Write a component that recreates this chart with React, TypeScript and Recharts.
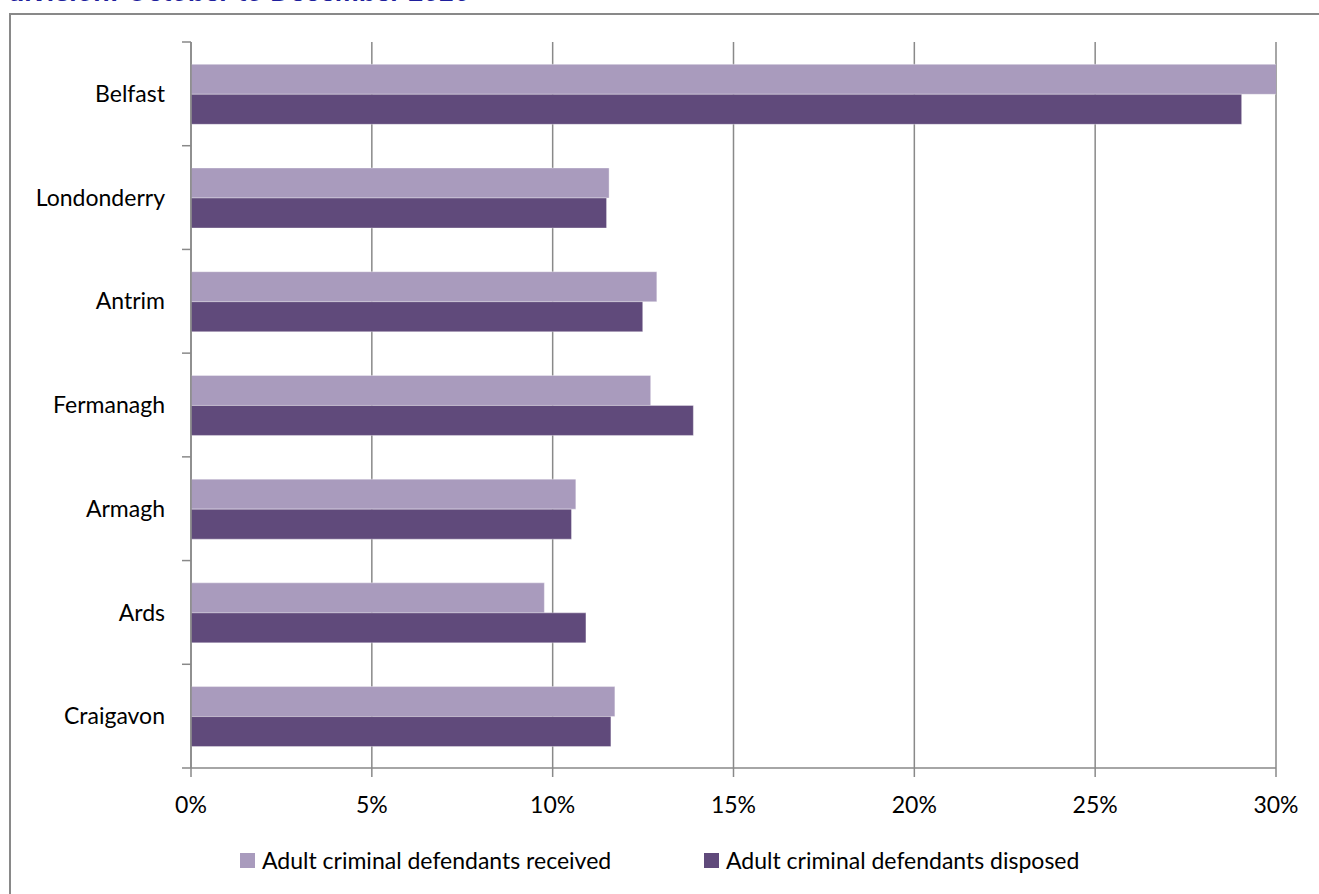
import React from 'react'
import { BarChart, Bar, XAxis, YAxis, CartesianGrid } from 'recharts'

const divisions = ['Belfast', 'Londonderry', 'Antrim', 'Fermanagh', 'Armagh', 'Ards', 'Craigavon']
const received = [0.301, 0.1156, 0.1288, 0.1271, 0.1064, 0.0977, 0.1172]
const disposed = [0.2905, 0.1149, 0.1249, 0.1389, 0.1052, 0.1092, 0.1161]
const xTicks = [0, 0.05, 0.1, 0.15, 0.2, 0.25, 0.3]

const data = divisions.map((division, i) => ({ division, received: received[i], disposed: disposed[i] }))

const GREY = '#898989'
const LIGHT = '#A99BBD'
const DARK = '#604A7B'
const FONT = 'Lato, "Open Sans", sans-serif'
const TICK_SIZE = 9
const TICK_MARGIN = 17

const pct = (v: number) => `${Math.round(v * 100)}%`

// category label plus the Excel-style tick marks on the band edges
const DivisionTick = (props: any) => {
  const { x, y, payload, index } = props
  const half = payload.offset || 0
  const axisX = x + TICK_MARGIN + TICK_SIZE
  return (
    <g>
      <text x={x} y={y} dy="0.355em" textAnchor="end" fill="#000" fontSize={23} fontFamily={FONT}>
        {payload.value}
      </text>
      <line x1={axisX - TICK_SIZE} x2={axisX} y1={y - half} y2={y - half} stroke={GREY} strokeWidth={1.5} />
      {index === divisions.length - 1 && (
        <line x1={axisX - TICK_SIZE} x2={axisX} y1={y + half} y2={y + half} stroke={GREY} strokeWidth={1.5} />
      )}
    </g>
  )
}

const App: React.FC = () => {
  return (
    <div style={{ position: 'fixed', left: 0, top: 0, width: 1319, height: 894, overflow: 'hidden', background: '#fff', fontFamily: FONT }}>
      <div style={{ position: 'absolute', left: 9, top: -21, fontFamily: '"Liberation Sans", Arial, sans-serif', fontWeight: 'bold', fontStyle: 'italic', fontSize: 27, lineHeight: '27px', color: '#1f1f9c', whiteSpace: 'nowrap' }}>
        division: October to December 2016
      </div>
      {/* chart frame: only the top and left edges are on screen */}
      <div style={{ position: 'absolute', left: 9, top: 13, width: 1310, height: 1.5, background: GREY }} />
      <div style={{ position: 'absolute', left: 9, top: 13, width: 1.5, height: 881, background: GREY }} />
      <div style={{ position: 'absolute', left: 0, top: 0 }}>
        <BarChart
          width={1319}
          height={894}
          data={data}
          layout="vertical"
          barCategoryGap="21.5%"
          barGap={0}
          margin={{ top: 42, right: 43, bottom: 66, left: 11 }}
        >
          <CartesianGrid horizontal={false} stroke={GREY} strokeWidth={1.5} />
          <YAxis
            type="category"
            dataKey="division"
            width={180}
            tickLine={false}
            axisLine={{ stroke: GREY, strokeWidth: 1.5 }}
            tickSize={TICK_SIZE}
            tickMargin={TICK_MARGIN}
            tick={<DivisionTick />}
          />
          <XAxis
            type="number"
            domain={[0, 0.3]}
            ticks={xTicks}
            allowDataOverflow
            tickFormatter={pct}
            height={60}
            tickSize={9}
            tickMargin={20}
            tickLine={{ stroke: GREY, strokeWidth: 1.5 }}
            axisLine={{ stroke: GREY, strokeWidth: 1.5 }}
            tick={{ fill: '#000', fontSize: 23, fontFamily: FONT }}
          />
          <Bar dataKey="received" fill={LIGHT} stroke="#ffffff" strokeOpacity={0.35} isAnimationActive={false} />
          <Bar dataKey="disposed" fill={DARK} stroke="#ffffff" strokeOpacity={0.35} isAnimationActive={false} />
        </BarChart>
      </div>
      <div style={{ position: 'absolute', left: 240, top: 845, fontSize: 23, lineHeight: '30px', color: '#000', whiteSpace: 'nowrap', display: 'flex', alignItems: 'center' }}>
        <span style={{ display: 'inline-block', width: 15, height: 15, background: LIGHT, marginRight: 7 }} />
        Adult criminal defendants received
      </div>
      <div style={{ position: 'absolute', left: 704, top: 845, fontSize: 23, lineHeight: '30px', color: '#000', whiteSpace: 'nowrap', display: 'flex', alignItems: 'center' }}>
        <span style={{ display: 'inline-block', width: 15, height: 15, background: DARK, marginRight: 7 }} />
        Adult criminal defendants disposed
      </div>
    </div>
  )
}

export default App
